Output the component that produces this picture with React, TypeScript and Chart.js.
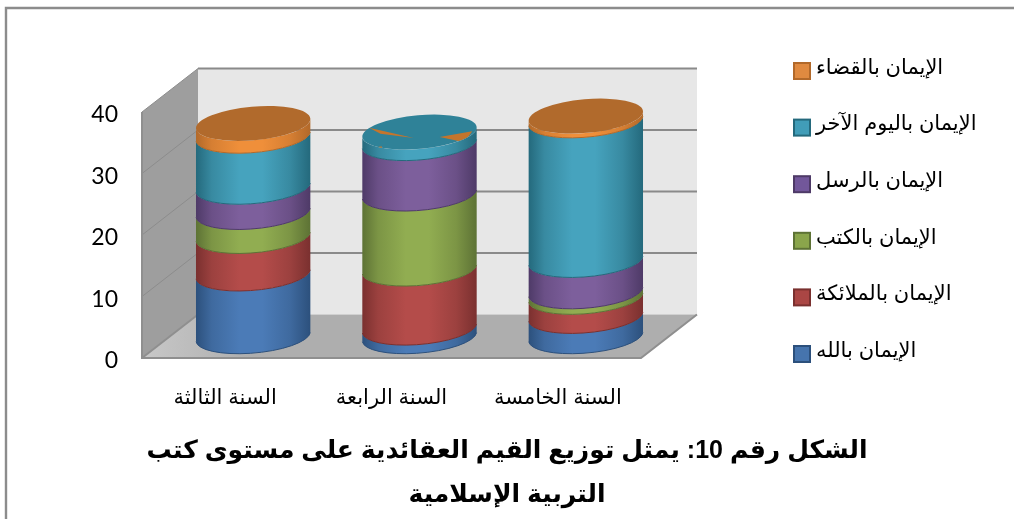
import React, { useEffect, useRef } from "react";
import { Chart, registerables } from "chart.js";

Chart.register(...registerables);

const categories = ["السنة الثالثة", "السنة الرابعة", "السنة الخامسة"];
const seriesNames = [
  "الإيمان بالله",
  "الإيمان بالملائكة",
  "الإيمان بالكتب",
  "الإيمان بالرسل",
  "الإيمان باليوم الآخر",
  "الإيمان بالقضاء",
];
const faith = [10.2, 1.4, 3.3];
const angels = [6.1, 9.6, 3.1];
const books = [3.9, 12.2, 0.9];
const messengers = [4.1, 8.2, 5.1];
const lastDay = [8.3, 1.8, 22.7];
const decree = [2.0, 0, 0.7];
const seriesValues = [faith, angels, books, messengers, lastDay, decree];

const titleLines = [
  "الشكل رقم 10: يمثل توزيع القيم العقائدية على مستوى كتب",
  "التربية الإسلامية",
];

// light: centre of the cylinder, mid: its shoulders, dark: the edges, cap: lid shade
const shades = [
  { light: "#4b7bb7", mid: "#3f6a9f", dark: "#2c507c", cap: "#3a6496", swatch: "#4674ad" },
  { light: "#b44c4a", mid: "#9c413f", dark: "#7a302f", cap: "#94403e", swatch: "#aa4644" },
  { light: "#91ad51", mid: "#7c9545", dark: "#5d7235", cap: "#768c42", swatch: "#8aa54b" },
  { light: "#7d5f9c", mid: "#6b5087", dark: "#4e3a67", cap: "#624b80", swatch: "#72579a" },
  { light: "#46a3be", mid: "#388aa1", dark: "#24697c", cap: "#2f8298", swatch: "#419db8" },
  { light: "#ef8f3a", mid: "#d67f33", dark: "#b2692a", cap: "#b16a2c", swatch: "#e08a40" },
];

const ARABIC_FONT = '"Liberation Sans", "DejaVu Sans", sans-serif';
const WALL_DX = 56;
const WALL_DY = 43.5;
const TILT = (-5 * Math.PI) / 180;
const LID_RY = 16.8;

const scenery = {
  id: "scenery",
  beforeDatasetsDraw(chart: any) {
    const { ctx, chartArea: a, scales } = chart;
    const y = scales.y;
    ctx.save();

    // page frame
    ctx.strokeStyle = "#8c8c8c";
    ctx.lineWidth = 2.4;
    ctx.beginPath();
    ctx.moveTo(6, 519);
    ctx.lineTo(6, 8);
    ctx.lineTo(1014, 8);
    ctx.stroke();

    const poly = (pts: number[][], fill: any) => {
      ctx.beginPath();
      pts.forEach(([px, py], i) => (i ? ctx.lineTo(px, py) : ctx.moveTo(px, py)));
      ctx.closePath();
      ctx.fillStyle = fill;
      ctx.fill();
    };

    const L = a.left, R = a.right, T = a.top, B = a.bottom;
    poly([[L + WALL_DX, T - WALL_DY], [R + WALL_DX, T - WALL_DY], [R + WALL_DX, B - WALL_DY], [L + WALL_DX, B - WALL_DY]], "#e7e7e7");
    poly([[L, T], [L + WALL_DX, T - WALL_DY], [L + WALL_DX, B - WALL_DY], [L, B]], "#9e9e9e");
    const floorFill = ctx.createLinearGradient(L, 0, L + 110, 0);
    floorFill.addColorStop(0, "#c8c8c8");
    floorFill.addColorStop(1, "#aeaeae");
    poly([[L, B], [L + WALL_DX, B - WALL_DY], [R + WALL_DX, B - WALL_DY], [R, B]], floorFill);

    // gridlines along the side wall and across the back wall
    y.ticks.forEach((t: any) => {
      const py = y.getPixelForValue(t.value);
      if (t.value > 0) {
        ctx.strokeStyle = "#8a8a8a";
        ctx.lineWidth = 2;
        ctx.beginPath();
        ctx.moveTo(L + WALL_DX, py - WALL_DY);
        ctx.lineTo(R + WALL_DX, py - WALL_DY);
        ctx.stroke();
      }
      ctx.strokeStyle = t.value > 0 ? "#8c8c8c" : "#8f8f8f";
      ctx.lineWidth = t.value > 0 ? 1 : 2;
      ctx.beginPath();
      ctx.moveTo(L, py);
      ctx.lineTo(L + WALL_DX, py - WALL_DY);
      ctx.stroke();
    });

    // front edge and right edge of the floor, outer edge of the side wall
    ctx.strokeStyle = "#8f8f8f";
    ctx.lineWidth = 2;
    ctx.beginPath();
    ctx.moveTo(L, T);
    ctx.lineTo(L, B);
    ctx.lineTo(R, B);
    ctx.lineTo(R + WALL_DX, B - WALL_DY);
    ctx.stroke();
    ctx.restore();
  },
};

// Lets the stacked bars be painted as cylinders standing mid-way into the floor.
const cylinders = {
  id: "cylinders",
  beforeDatasetsDraw(chart: any) {
    const { ctx } = chart;
    const dx = WALL_DX / 2;
    const dy = WALL_DY / 2;
    ctx.save();

    categories.forEach((_, col) => {
      let topSeries = 0;
      let zeroOnTop = -1;
      chart.data.datasets.forEach((ds: any, s: number) => {
        if (ds.data[col] > 0) topSeries = s;
        else zeroOnTop = s;
      });

      chart.data.datasets.forEach((ds: any, s: number) => {
        const el = chart.getDatasetMeta(s).data[col];
        if (!(ds.data[col] > 0)) return;
        const cx = el.x + dx;
        const yTop = el.y - dy;
        const yBase = el.base - dy;
        const rx = el.width / 2;
        const shade = shades[s];
        const t0 = Math.PI + Math.atan2(-LID_RY * Math.sin(TILT), rx * Math.cos(TILT));
        const t1 = t0 - Math.PI;

        const side = ctx.createLinearGradient(cx - rx, 0, cx + rx, 0);
        side.addColorStop(0, shade.dark);
        side.addColorStop(0.14, shade.mid);
        side.addColorStop(0.38, shade.light);
        side.addColorStop(0.58, shade.light);
        side.addColorStop(0.82, shade.mid);
        side.addColorStop(1, shade.dark);

        ctx.beginPath();
        ctx.ellipse(cx, yBase, rx, LID_RY, TILT, t1, t0, false);
        ctx.ellipse(cx, yTop, rx, LID_RY, TILT, t0, t1, true);
        ctx.closePath();
        ctx.fillStyle = side;
        ctx.fill();

        // darker seam under each band
        ctx.beginPath();
        ctx.ellipse(cx, yBase, rx, LID_RY, TILT, t1 + 0.05, t0 - 0.05, false);
        ctx.strokeStyle = shade.dark;
        ctx.lineWidth = 1;
        ctx.stroke();

        if (s === topSeries) {
          ctx.beginPath();
          ctx.ellipse(cx, yTop, rx, LID_RY, TILT, 0, Math.PI * 2);
          ctx.fillStyle = shade.cap;
          ctx.fill();

          // an empty band on top shows as slivers poking through the lid
          if (zeroOnTop >= 0) {
            ctx.save();
            ctx.beginPath();
            ctx.ellipse(cx, yTop, rx, LID_RY, TILT, 0, Math.PI * 2);
            ctx.clip();
            ctx.fillStyle = "#c4752c";
            const slivers = [
              [[-0.88, -0.25], [-0.68, 0.1], [-0.1, 0.35]],
              [[0.35, 0.3], [0.92, -0.05], [0.78, 0.6]],
              [[-0.82, 0.95], [-0.66, 0.85], [-0.64, 1.1]],
              [[-0.08, 1.2], [0.04, 1.12], [0.02, 1.32]],
            ];
            slivers.forEach((tri) => {
              ctx.beginPath();
              tri.forEach(([u, v], i) => {
                const px = cx + u * rx;
                const py = yTop + v * LID_RY;
                if (i) ctx.lineTo(px, py);
                else ctx.moveTo(px, py);
              });
              ctx.closePath();
              ctx.fill();
            });
            ctx.restore();
          }
        }
      });
    });

    ctx.restore();
    return false;
  },
};

const sideLegend = {
  id: "sideLegend",
  afterDraw(chart: any) {
    const { ctx } = chart;
    const count = seriesNames.length;
    ctx.save();
    ctx.font = `21px ${ARABIC_FONT}`;
    ctx.textAlign = "left";
    ctx.textBaseline = "middle";
    for (let row = 0; row < count; row++) {
      const s = count - 1 - row;
      const cy = 71 + row * 56.6;
      ctx.fillStyle = shades[s].swatch;
      ctx.fillRect(794, cy - 8, 16, 16);
      ctx.strokeStyle = shades[s].dark;
      ctx.lineWidth = 2;
      ctx.strokeRect(794, cy - 8, 16, 16);
      ctx.fillStyle = "#000";
      ctx.fillText(seriesNames[s], 816, cy - 3);
    }
    ctx.restore();
  },
};

export default function App() {
  const ref = useRef<HTMLCanvasElement>(null);

  useEffect(() => {
    const chart = new Chart(ref.current!, {
      type: "bar",
      data: {
        labels: categories,
        datasets: seriesNames.map((label, s) => ({
          label,
          data: seriesValues[s],
          backgroundColor: shades[s].swatch,
          stack: "all",
          barPercentage: 0.69,
          categoryPercentage: 1,
        })),
      },
      options: {
        responsive: false,
        animation: false,
        layout: { padding: { top: 112, right: 0, bottom: 0, left: 0 } },
        plugins: {
          legend: { display: false },
          tooltip: { enabled: false },
          title: {
            display: true,
            position: "bottom",
            text: titleLines,
            color: "#000",
            padding: { top: 0, bottom: 2 },
            font: { family: ARABIC_FONT, size: 25, weight: "bold", lineHeight: "44px" },
          },
        },
        scales: {
          x: {
            stacked: true,
            afterFit: (s: any) => { s.height = 71; },
            grid: { display: false, drawTicks: false },
            border: { display: false },
            ticks: {
              padding: 28,
              color: "#000",
              autoSkip: false,
              maxRotation: 0,
              font: { family: ARABIC_FONT, size: 21 },
            },
          },
          y: {
            stacked: true,
            min: 0,
            max: 40,
            afterFit: (s: any) => { s.width = 142; },
            grid: { display: false, drawTicks: false },
            border: { display: false },
            ticks: {
              stepSize: 10,
              padding: 24,
              labelOffset: 3,
              color: "#000",
              font: { family: "Lato", size: 23 },
            },
          },
          // empty axis that reserves the column where the series key is drawn
          keyColumn: {
            type: "linear",
            position: "right",
            display: true,
            afterFit: (s: any) => { s.width = 373; },
            grid: { display: false, drawTicks: false },
            border: { display: false },
            ticks: { display: false },
          },
        },
      },
      plugins: [scenery, cylinders, sideLegend],
    } as any);
    return () => chart.destroy();
  }, []);

  return (
    <div style={{ position: "absolute", left: 0, top: 0, width: 1014, height: 519, background: "#fff" }}>
      <canvas ref={ref} width={1014} height={519} style={{ display: "block" }} />
    </div>
  );
}
